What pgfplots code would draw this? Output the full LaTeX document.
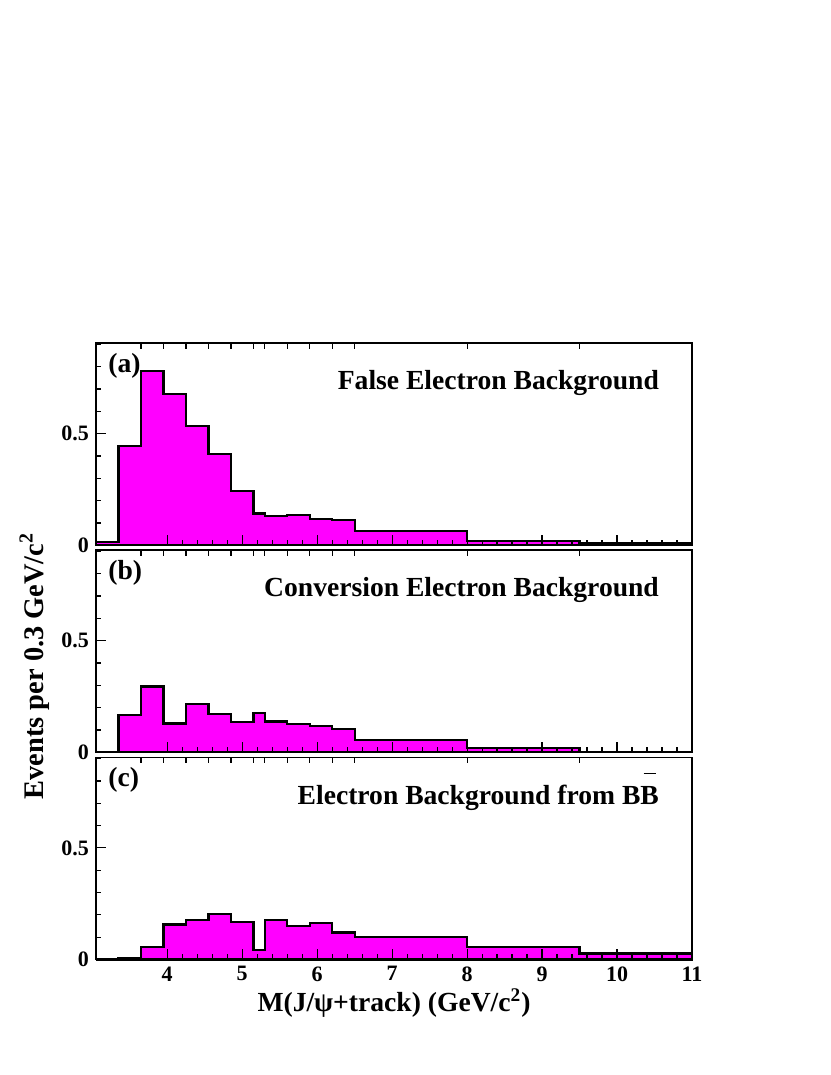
\documentclass[border=0pt]{standalone}
\usepackage{fontspec}
\setmainfont{Liberation Serif}
\usepackage{pgfplots}
\usepackage{pgfplotstable}
\pgfplotsset{compat=1.18}

\definecolor{rootmag}{RGB}{255,0,255}

% bin edge (left) and content; last row repeats the last bin at the right edge
\pgfplotstableread{
x y
3.05 0.013
3.35 0.446
3.65 0.780
3.95 0.678
4.25 0.534
4.55 0.409
4.85 0.244
5.15 0.142
5.30 0.133
5.60 0.136
5.90 0.118
6.20 0.114
6.50 0.064
8.00 0.021
9.50 0.009
11.0 0.009
}\falsebg
\pgfplotstableread{
x y
3.05 0
3.35 0.166
3.65 0.295
3.95 0.129
4.25 0.215
4.55 0.172
4.85 0.136
5.15 0.176
5.30 0.138
5.60 0.126
5.90 0.117
6.20 0.105
6.50 0.055
8.00 0.018
9.50 0
11.0 0
}\convbg
\pgfplotstableread{
x y
3.05 0
3.35 0.006
3.65 0.056
3.95 0.157
4.25 0.178
4.55 0.204
4.85 0.169
5.15 0.041
5.30 0.178
5.60 0.149
5.90 0.163
6.20 0.121
6.50 0.101
8.00 0.056
9.50 0.027
11.0 0.027
}\bbbg

\newcommand{\lab}{\fontsize{13.8}{16}\selectfont\bfseries}

\tikzset{
  tag/.style={anchor=base west, font=\lab, inner sep=0pt},
  ptitle/.style={anchor=base east, font=\lab, inner sep=0pt},
}

\pgfplotsset{
  panel/.style={
    width=298pt, height=101pt, scale only axis,
    xmin=3.05, xmax=11, ymin=0, ymax=0.905,
    axis on top,
    axis line style={line width=0.8pt},
    xtick={4,...,11}, minor x tick num=4,
    ytick={0,0.5}, minor ytick={0.1,0.2,0.3,0.4,0.6,0.7,0.8,0.9},
    xtick pos=bottom, ytick pos=left,
    tick align=inside,
    major tick length=5pt, minor tick length=2.6pt,
    tick style={line width=0.6pt, black},
    tick label style={font=\fontsize{11}{13}\selectfont\bfseries},
    /pgf/number format/assume math mode=true,
    clip=false,
  },
  edges/.style={
    width=298pt, height=101pt, scale only axis,
    xmin=3.05, xmax=11, ymin=0, ymax=0.905,
    axis x line*=top, axis y line=none,
    xtick={3.65,3.95,4.25,4.55,4.85,5.15,5.30,5.60,5.90,6.20,6.50,8.0,9.5},
    xticklabels={}, tick align=inside,
    major tick length=3pt,
    tick style={line width=0.6pt, black},
    axis line style={draw=none},
  },
  hist/.style={const plot, fill=rootmag, draw=black, line width=1.1pt},
}

\begin{document}
\begin{tikzpicture}
\useasboundingbox (0,0) rectangle (415pt,537.5pt);

% (a)
\begin{axis}[panel, at={(48pt,264.85pt)}, anchor=south west, xticklabels={}]
\addplot[hist] table {\falsebg} \closedcycle;
\node[tag] at (rel axis cs:0.02,0.855) {(a)};
\node[ptitle] at (rel axis cs:0.945,0.769) {False Electron Background};
\end{axis}
\begin{axis}[edges, at={(48pt,264.85pt)}, anchor=south west]
\end{axis}

% (b)
\begin{axis}[panel, at={(48pt,161.35pt)}, anchor=south west, xticklabels={}]
\addplot[hist] table {\convbg} \closedcycle;
\node[tag] at (rel axis cs:0.02,0.855) {(b)};
\node[ptitle] at (rel axis cs:0.945,0.769) {Conversion Electron Background};
\end{axis}
\begin{axis}[edges, at={(48pt,161.35pt)}, anchor=south west]
\end{axis}

% (c)
\begin{axis}[panel, at={(48pt,57.75pt)}, anchor=south west]
\addplot[hist] table {\bbbg} \closedcycle;
\node[tag] at (rel axis cs:0.02,0.855) {(c)};
\node[ptitle] at (rel axis cs:0.945,0.769)
  {Electron Background from B\makebox[0pt][l]{\hspace{0.12em}\raisebox{1.08em}{\rule{0.45em}{0.06em}}}B};
\end{axis}
\begin{axis}[edges, at={(48pt,57.75pt)}, anchor=south west]
\end{axis}

\node[anchor=base, font=\lab, inner sep=0pt] at (197pt,31.5pt) {M(J/ψ+track) (GeV/c\textsuperscript{2})};
\node[anchor=base, rotate=90, font=\fontsize{14.2}{16}\selectfont\bfseries, inner sep=0pt] at (21.5pt,204.5pt) {Events per 0.3 GeV/c\textsuperscript{2}};
\end{tikzpicture}
\end{document}
